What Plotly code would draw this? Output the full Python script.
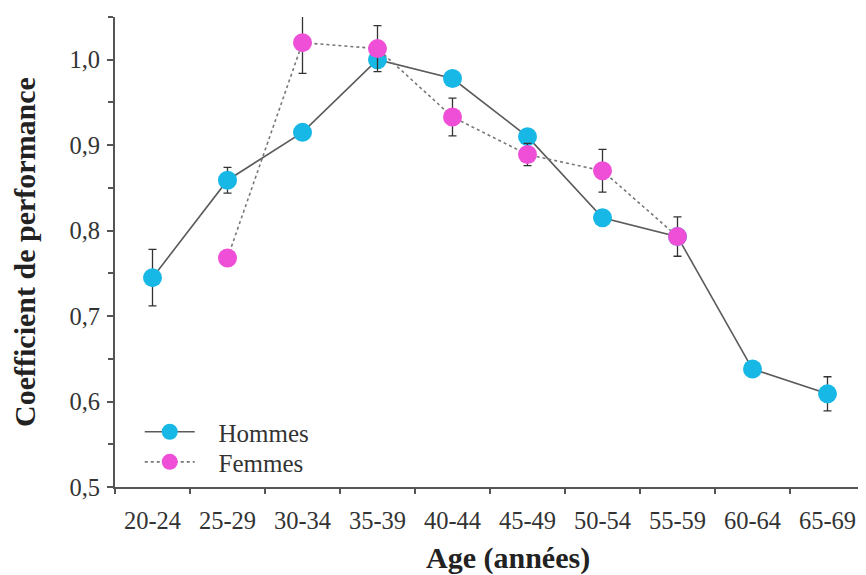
import plotly.graph_objects as go

age_groups = ["20-24", "25-29", "30-34", "35-39", "40-44", "45-49",
              "50-54", "55-59", "60-64", "65-69"]
hommes = [0.745, 0.859, 0.915, 1.000, 0.978, 0.910, 0.815, 0.793, 0.638, 0.609]
hommes_err = [0.033, 0.015, 0.007, 0.006, 0.007, 0.006, 0.007, 0.006, 0.004, 0.020]
femmes = [None, 0.768, 1.020, 1.013, 0.933, 0.889, 0.870, 0.793, None, None]
femmes_err = [None, 0.009, 0.036, 0.027, 0.022, 0.013, 0.025, 0.023, None, None]
y_ticks = [0.5, 0.6, 0.7, 0.8, 0.9, 1.0]
y_ticklabels = ["0,5", "0,6", "0,7", "0,8", "0,9", "1,0"]

SERIF = "Liberation Serif, Times New Roman, serif"
AXIS = "#555555"
NB = "\u00a0\u00a0\u00a0"

fig = go.Figure()
fig.add_trace(go.Scatter(
    x=age_groups, y=hommes, name=NB + "Hommes", mode="lines+markers",
    line=dict(color="#5a5a5a", width=1.6),
    marker=dict(color="#17b8e6", size=19),
    error_y=dict(type="data", array=hommes_err, color="#333333", thickness=1.3, width=4),
    legend="legend", cliponaxis=False,
))
fig.add_trace(go.Scatter(
    x=age_groups, y=femmes, name=NB + "Femmes", mode="lines+markers",
    line=dict(color="#777777", width=1.6, dash="dot"),
    marker=dict(color="#ee4fd6", size=19),
    error_y=dict(type="data", array=femmes_err, color="#333333", thickness=1.3, width=4),
    connectgaps=False,
    legend="legend2", cliponaxis=False,
))

legend_common = dict(x=0.033, xanchor="left", yanchor="middle",
                     bgcolor="rgba(0,0,0,0)", font=dict(size=25, color="#333333"),
                     itemwidth=50)

fig.update_layout(
    width=858, height=567,
    margin=dict(l=107, r=1, t=9, b=88),
    paper_bgcolor="white", plot_bgcolor="white",
    font=dict(family=SERIF, size=24.5, color="#333333"),
    showlegend=True,
    legend=dict(y=0.117, **legend_common),
    legend2=dict(y=0.053, **legend_common),
    annotations=[dict(text="<b>Age (années)</b>", xref="paper", yref="paper",
                      x=0.524, y=-0.151, xanchor="center", yanchor="middle",
                      showarrow=False, font=dict(family=SERIF, size=30, color="#222222"))],
)
fig.update_xaxes(
    type="category", categoryorder="array", categoryarray=age_groups,
    range=[-0.5, 9.5], tickson="boundaries",
    showline=True, linecolor=AXIS, linewidth=2,
    ticks="outside", ticklen=5, tickcolor=AXIS, tickwidth=1.5,
    ticklabelstandoff=11,
    showgrid=False, zeroline=False,
)
fig.update_yaxes(
    range=[0.5, 1.05], tickvals=y_ticks, ticktext=y_ticklabels,
    showline=True, linecolor=AXIS, linewidth=2,
    ticks="outside", ticklen=6, tickcolor=AXIS, tickwidth=1.5,
    minor=dict(dtick=0.05, tick0=0.5, ticks="outside", ticklen=5, tickcolor=AXIS, showgrid=False),
    ticklabelstandoff=2,
    showgrid=False, zeroline=False,
    title=dict(text="<b>Coefficient de performance</b>", standoff=33,
               font=dict(family=SERIF, size=30, color="#222222")),
)

fig.write_html("out.html")
